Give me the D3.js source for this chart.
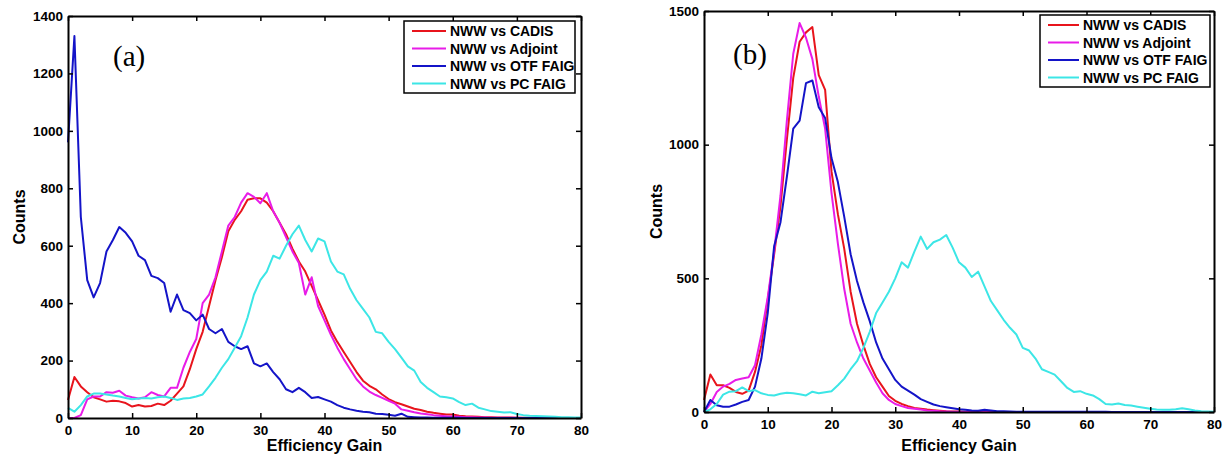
<!DOCTYPE html>
<html>
<head>
<meta charset="utf-8">
<script src="https://cdn.jsdelivr.net/npm/d3@7"></script>
<style>
  body { margin: 0; background: #fff; }
  svg { display: block; font-family: "Liberation Sans", Arial, sans-serif; }
  .axis text { font-family: "Liberation Sans", Arial, sans-serif; font-size: 13.5px; font-weight: bold; fill: #000; }
  .axis path, .axis line { stroke: #000; }
</style>
</head>
<body>
<svg id="chart" width="1228" height="459"></svg>
<script>
// efficiency gain bins (shared by both panels)
const gainBins = [0,1,2,3,4,5,6,7,8,9,10,11,12,13,14,15,16,17,18,19,20,
  21,22,23,24,25,26,27,28,29,30,31,32,33,34,35,36,37,38,39,40,
  41,42,43,44,45,46,47,48,49,50,51,52,53,54,55,56,57,58,59,60,
  61,62,63,64,65,66,67,68,69,70,71,72,73,74,75,76,77,78,79,80];

const seriesNames = ["NWW vs CADIS", "NWW vs Adjoint", "NWW vs OTF FAIG", "NWW vs PC FAIG"];
const seriesColors = ["#e8141c", "#e81ce8", "#1414c8", "#3ce6e6"];

const xTicks = [0, 10, 20, 30, 40, 50, 60, 70, 80];
const yTicksA = [0, 200, 400, 600, 800, 1000, 1200, 1400];
const yTicksB = [0, 500, 1000, 1500];

// panel (a)
const cadisA = [63,143,110,90,72,65,57,60,58,52,
  40,45,40,42,50,45,60,85,110,170,
  240,300,390,480,560,650,690,720,760,765,
  765,750,720,680,640,590,545,510,460,410,
  360,305,265,230,195,160,130,112,100,82,
  66,55,48,40,32,28,22,18,15,12,
  12,8,6,5,4,3,3,2,2,2,
  1,1,1,1,1,0,0,0,0,0,
  0];
const adjointA = [0,0,10,65,75,75,90,88,95,78,
  72,68,72,90,80,75,105,105,175,230,
  275,400,430,490,580,670,700,750,783,770,
  748,783,720,680,630,580,540,430,490,390,
  340,290,245,205,170,135,110,92,80,70,
  60,50,30,25,20,16,13,10,8,6,
  5,4,3,3,2,2,1,1,1,1,
  1,0,0,0,0,0,0,0,0,0,
  0];
const otfA = [960,1330,700,480,420,470,580,620,665,645,
  615,565,550,495,487,470,370,430,376,365,
  340,360,310,295,310,265,250,240,250,190,
  180,190,160,135,100,90,105,90,70,73,
  65,57,45,36,30,25,22,20,15,14,
  11,8,15,4,3,2,2,1,1,1,
  1,1,0,0,0,0,0,0,0,0,
  0,0,0,0,0,0,0,0,0,0,
  0];
const pcA = [35,22,45,75,85,85,82,78,75,70,
  65,68,70,68,72,75,70,63,68,70,
  75,82,110,140,175,205,245,285,350,430,
  480,510,565,555,600,640,670,620,580,625,
  615,545,510,500,450,410,380,350,300,295,
  265,240,210,180,165,125,105,90,75,72,
  68,55,45,50,36,30,24,22,19,20,
  14,10,8,7,6,5,4,3,3,2,
  2];

// panel (b)
const cadisB = [45,140,100,100,90,75,68,80,150,250,
  420,590,770,1020,1250,1385,1420,1440,1260,1205,
  900,740,610,450,330,250,180,130,95,60,
  42,30,22,15,12,9,7,5,3,2,
  2,1,1,1,1,0,0,0,0,0,
  0,0,0,0,0,0,0,0,0,0,
  0,0,0,0,0,0,0,0,0,0,
  0,0,0,0,0,0,0,0,0,0,
  0];
const adjointB = [0,30,75,95,105,120,125,130,175,290,
  430,600,810,1090,1340,1455,1400,1320,1180,1060,
  820,630,460,330,260,200,155,110,70,45,
  30,22,15,12,9,6,5,3,2,1,
  1,0,0,0,0,0,0,0,0,0,
  0,0,0,0,0,0,0,0,0,0,
  0,0,0,0,0,0,0,0,0,0,
  0,0,0,0,0,0,0,0,0,0,
  0];
const otfB = [0,45,25,20,20,28,38,45,95,200,
  370,620,710,880,1060,1090,1230,1240,1140,1100,
  950,860,730,590,490,410,340,260,200,160,
  120,95,80,65,48,38,28,22,18,14,
  10,8,6,5,8,6,3,3,2,1,
  1,1,1,1,1,1,1,1,1,1,
  1,1,1,1,0,0,0,0,0,0,
  0,0,0,0,0,0,0,0,0,0,
  0];
const pcB = [0,10,30,65,76,78,92,78,82,70,
  64,62,68,72,70,66,62,76,70,74,
  78,100,125,160,190,240,300,370,410,450,
  500,560,540,600,656,610,635,645,662,615,
  560,540,505,525,470,415,380,345,315,290,
  240,230,200,160,150,140,115,90,75,78,
  68,62,48,30,28,32,26,24,20,16,
  12,9,8,8,10,14,10,6,3,2,
  1];

const svg = d3.select("#chart");

// one panel: frame, ticks on all four sides, lines, legend, labels
function drawPanel(p) {
  const x = d3.scaleLinear().domain([0, 80]).range([p.left, p.right]);
  const y = d3.scaleLinear().domain([0, p.yMax]).range([p.bottom, p.top]);

  const line = d3.line()
    .x((d, i) => x(gainBins[i]))
    .y(d => y(d));

  p.series.forEach((vals, i) => {
    svg.append("path")
      .attr("d", line(vals))
      .attr("fill", "none")
      .attr("stroke", seriesColors[i])
      .attr("stroke-width", 2)
      .attr("stroke-linejoin", "round");
  });

  svg.append("g").attr("class", "axis")
    .attr("transform", "translate(0," + p.bottom + ")")
    .call(d3.axisBottom(x).tickValues(xTicks).tickSizeInner(-5).tickSizeOuter(0).tickPadding(7).tickFormat(d3.format("d")));
  svg.append("g").attr("class", "axis")
    .attr("transform", "translate(0," + p.top + ")")
    .call(d3.axisTop(x).tickValues(xTicks).tickSizeInner(-5).tickSizeOuter(0).tickFormat(""));
  svg.append("g").attr("class", "axis")
    .attr("transform", "translate(" + p.left + ",0)")
    .call(d3.axisLeft(y).tickValues(p.yTicks).tickSizeInner(-5).tickSizeOuter(0).tickPadding(5).tickFormat(d3.format("d")));
  svg.append("g").attr("class", "axis")
    .attr("transform", "translate(" + p.right + ",0)")
    .call(d3.axisRight(y).tickValues(p.yTicks).tickSizeInner(-5).tickSizeOuter(0).tickFormat(""));

  svg.selectAll(".axis path").attr("stroke-width", 2);
  svg.selectAll(".axis line").attr("stroke-width", 1.5);

  // legend
  const lg = svg.append("g").attr("transform", "translate(" + p.legX + "," + p.legY + ")");
  lg.append("rect")
    .attr("width", p.legW).attr("height", 72)
    .attr("fill", "#fff").attr("stroke", "#000").attr("stroke-width", 1.5);
  seriesNames.forEach((name, i) => {
    const ry = 10 + i * 17.5;
    lg.append("line")
      .attr("x1", 8).attr("x2", 8 + p.legLine)
      .attr("y1", ry).attr("y2", ry)
      .attr("stroke", seriesColors[i]).attr("stroke-width", 2);
    lg.append("text")
      .attr("x", 12 + p.legLine).attr("y", ry + 5)
      .attr("font-size", "14px").attr("font-weight", "bold")
      .text(name);
  });

  svg.append("text")
    .attr("x", (p.left + p.right) / 2).attr("y", 451)
    .attr("text-anchor", "middle")
    .attr("font-size", "16px").attr("font-weight", "bold")
    .text("Efficiency Gain");

  svg.append("text")
    .attr("transform", "translate(" + p.yLabX + "," + ((p.top + p.bottom) / 2) + ") rotate(-90)")
    .attr("text-anchor", "middle")
    .attr("font-size", "16px").attr("font-weight", "bold")
    .text("Counts");

  svg.append("text")
    .attr("x", p.tagX).attr("y", p.tagY)
    .attr("font-family", "'Liberation Serif', 'Times New Roman', serif")
    .attr("font-size", "29px")
    .text(p.tag);
}

drawPanel({
  left: 68, right: 581, top: 16, bottom: 418, yMax: 1400, yTicks: yTicksA,
  series: [cadisA, adjointA, otfA, pcA],
  legX: 404, legY: 21, legW: 171, legLine: 34,
  yLabX: 25, tag: "(a)", tagX: 113, tagY: 66
});

drawPanel({
  left: 704, right: 1214, top: 11, bottom: 412, yMax: 1500, yTicks: yTicksB,
  series: [cadisB, adjointB, otfB, pcB],
  legX: 1040, legY: 15, legW: 170, legLine: 31,
  yLabX: 662, tag: "(b)", tagX: 733, tagY: 64
});
</script>
</body>
</html>
